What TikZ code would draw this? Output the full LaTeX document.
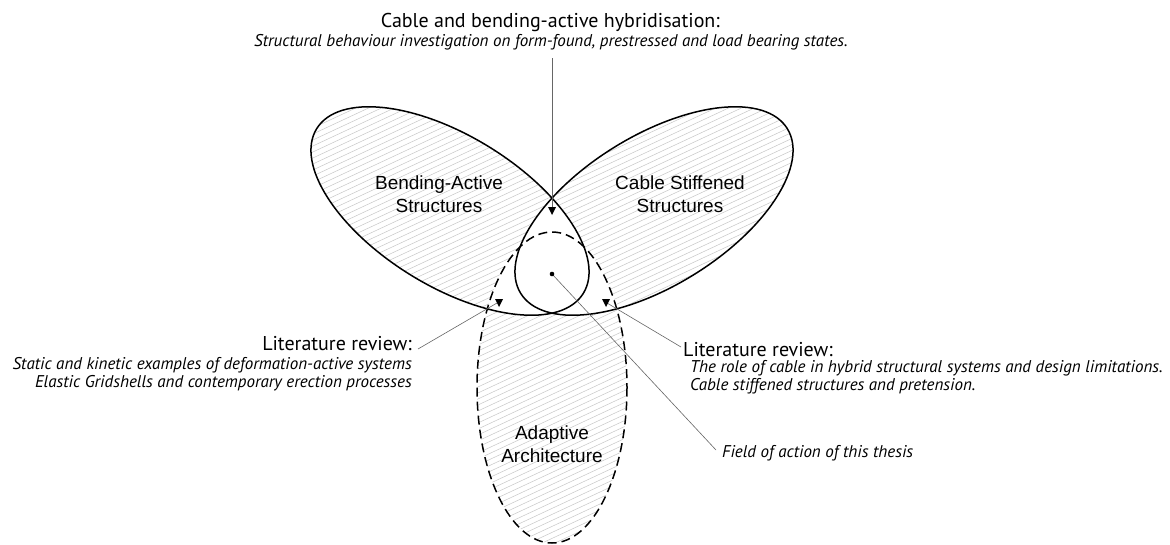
\documentclass[tikz,border=0pt]{standalone}
\usepackage{fontspec}
\setmainfont{PT Sans}
\newfontfamily\arialf{Liberation Sans}
\begin{document}
\begin{tikzpicture}[x=1pt,y=-1pt,
  outl/.style={line width=1.5pt, black},
  dashout/.style={line width=1.5pt, black, dash pattern=on 9pt off 5pt},
  hatchln/.style={black!22, line width=0.5pt},
  leader/.style={black!60, line width=0.6pt},
  ellL/.style={shift={(450,211)}, rotate=-31.7},
  ellR/.style={shift={(654,211)}, rotate=31.7},
  ellD/.style={shift={(552,387.5)}},
  lab/.style={font=\arialf\fontsize{19}{22.5}\selectfont, align=center, inner sep=0pt},
  headtxt/.style={font=\fontsize{20}{24}\selectfont, inner sep=0pt},
  subtxt/.style={font=\itshape\fontsize{17}{19}\selectfont, inner sep=0pt},
]
\useasboundingbox (0,0) rectangle (1170,544);
\fill[white] (0,0) rectangle (1170,544);

% hatching of each shape
\begin{scope}[ellL]
  \clip (0,0) ellipse [x radius=156.7, y radius=75.1];
  \begin{scope}[reset cm]
    \foreach \k in {-560,-554,...,1100} \draw[hatchln] (0,\k) -- (1170,\k-546);
  \end{scope}
\end{scope}
\begin{scope}[ellR]
  \clip (0,0) ellipse [x radius=156.7, y radius=75.1];
  \begin{scope}[reset cm]
    \foreach \k in {-560,-554,...,1100} \draw[hatchln] (0,\k) -- (1170,\k-546);
  \end{scope}
\end{scope}
\begin{scope}[ellD]
  \clip (0,0) ellipse [x radius=75, y radius=155.5];
  \begin{scope}[reset cm]
    \foreach \k in {-560,-554,...,1100} \draw[hatchln] (0,\k) -- (1170,\k-546);
  \end{scope}
\end{scope}

% overlaps left white
\begin{scope}[ellL]
  \clip (0,0) ellipse [x radius=156.7, y radius=75.1];
  \begin{scope}[reset cm, ellR]
    \fill[white] (0,0) ellipse [x radius=156.7, y radius=75.1];
  \end{scope}
  \begin{scope}[reset cm, ellD]
    \fill[white] (0,0) ellipse [x radius=75, y radius=155.5];
  \end{scope}
\end{scope}
\begin{scope}[ellR]
  \clip (0,0) ellipse [x radius=156.7, y radius=75.1];
  \begin{scope}[reset cm, ellD]
    \fill[white] (0,0) ellipse [x radius=75, y radius=155.5];
  \end{scope}
\end{scope}

% outlines
\draw[outl, ellL] (0,0) ellipse [x radius=156.7, y radius=75.1];
\draw[outl, ellR] (0,0) ellipse [x radius=156.7, y radius=75.1];
\draw[dashout, ellD] (0,0) ellipse [x radius=75, y radius=155.5];

% shape labels
\node[lab] (bend) at (439,194) {Bending-Active\\Structures};
\node[lab] (cable) at (680,194) {Cable Stiffened\\Structures};
\node[lab] (adapt) at (552,444) {Adaptive\\Architecture};

% texts
\node[headtxt, anchor=base east] (title) at (720,27) {Cable and bending-active hybridisation:};
\node[subtxt, anchor=base east] (subtitle) at (848,46) {Structural behaviour investigation on form-found, prestressed and load bearing states.};

\node[headtxt, anchor=base east] (litL) at (412,350) {Literature review:};
\node[subtxt, anchor=base east] (litL1) at (412,369) {Static and kinetic examples of deformation-active systems};
\node[subtxt, anchor=base east] (litL2) at (412,387) {Elastic Gridshells and contemporary erection processes};

\node[headtxt, anchor=base west] (litR) at (683,356) {Literature review:};
\node[subtxt, anchor=base west] (litR1) at (690,372) {The role of cable in hybrid structural systems and design limitations.};
\node[subtxt, anchor=base west] (litR2) at (690,390) {Cable stiffened structures and pretension.};

\node[subtxt, anchor=base west] (field) at (722,457) {Field of action of this thesis};

% leader lines and tips
\coordinate (topS) at (552,58);
\coordinate (tipT) at (552,207);
\coordinate (lS) at (418,349);
\coordinate (tipL) at (497,303);
\coordinate (rS) at (681,347);
\coordinate (tipR) at (607,303);
\coordinate (fS) at (716,450);
\coordinate (dot) at (552,274);

\draw[leader] (topS) -- (tipT);
\draw[leader] (lS) -- (tipL);
\draw[leader] (rS) -- (tipR);
\draw[leader] (fS) -- (dot);
\fill (dot) circle (2.3);
\fill (548,207) -- (556,207) -- (552,215) -- cycle;
\fill (495,299) -- (503,299) -- (499,307) -- cycle;
\fill (602,299) -- (610,299) -- (606,307) -- cycle;
\end{tikzpicture}
\end{document}
